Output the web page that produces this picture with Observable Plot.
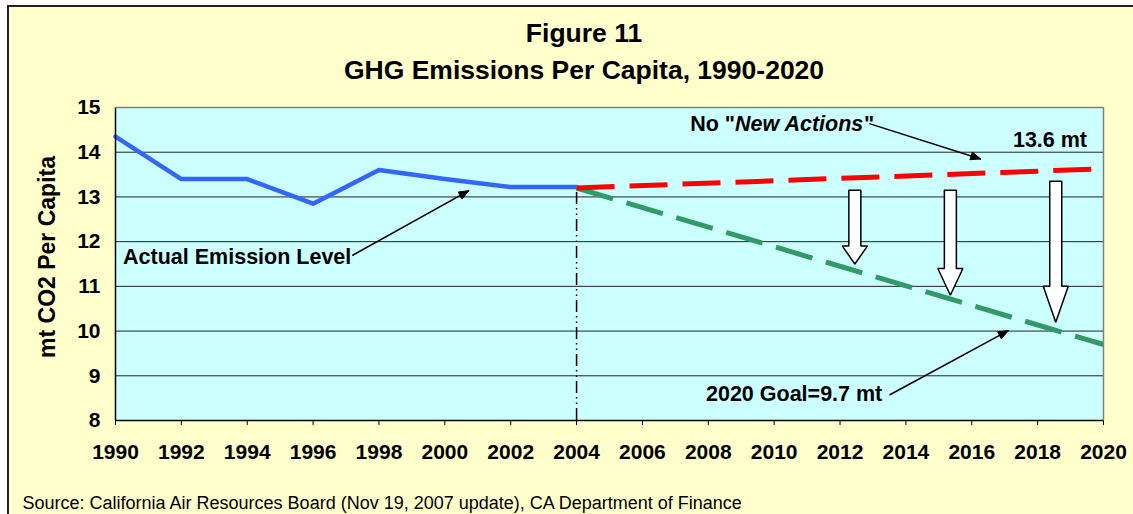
<!DOCTYPE html>
<html><head><meta charset="utf-8">
<script src="https://cdn.jsdelivr.net/npm/d3@7"></script>
<script src="https://cdn.jsdelivr.net/npm/@observablehq/plot@0.6"></script>
<style>
html,body{margin:0;padding:0;background:#fff;overflow:hidden;}
#wrap{position:absolute;left:7px;top:5px;width:1140px;height:520px;background:#FFFFCC;border-left:2px solid #222;border-top:2px solid #222;}
#chart{position:absolute;left:0;top:0;}
</style></head><body><div id="wrap"></div><div id="chart"></div>
<script>
// ---- data ----
const actualYears = [1990, 1992, 1994, 1996, 1998, 2000, 2002, 2004];
const actualValues = [14.35, 13.4, 13.4, 12.85, 13.6, 13.4, 13.22, 13.22];
const projectionYears = [2004, 2020];
const noNewActionsValues = [13.2, 13.63];
const goalValues = [13.2, 9.7];
const xTickYears = [1990, 1992, 1994, 1996, 1998, 2000, 2002, 2004, 2006, 2008, 2010, 2012, 2014, 2016, 2018, 2020];
const yTickValues = [8, 9, 10, 11, 12, 13, 14, 15];
const gridValues = [9, 10, 11, 12, 13, 14];
const baseYear = 2004;
// reduction block arrows (year, top, neck, tip)
const reductionArrowYears = [2012.45, 2015.35, 2018.55];
const reductionArrowTops = [13.15, 13.15, 13.35];
const reductionArrowNecks = [11.9, 11.4, 11.0];
const reductionArrowTips = [11.5, 10.8, 10.2];
// callouts
const calloutLabels = ["Actual Emission Level", "2020 Goal=9.7 mt", "13.6 mt"];
const calloutX = [1990.23, 2007.93, 2019.5];
const calloutY = [11.645, 8.58, 14.28];
const pointerX1 = [1997.19, 2013.5, 2012.89];
const pointerY1 = [11.69, 8.57, 14.64];
const pointerX2 = [2000.73, 2017.11, 2016.27];
const pointerY2 = [13.14, 10.01, 13.85];
const noActionParts = ["No \"", "New Actions", "\""];
const noActionX = 2007.45, noActionY = 14.62;
const titleLines = ["Figure 11", "GHG Emissions Per Capita, 1990-2020"];
const yLabel = "mt CO2 Per Capita";
const sourceNote = "Source: California Air Resources Board (Nov 19, 2007 update), CA Department of Finance";

// ---- layout ----
const W = 1133, H = 514, mL = 115, mR = 30, mT = 107, mB = 94;
const FONT = "'Liberation Sans', Arial, sans-serif";
const AF = 21.5; // annotation font size
const kx = (W - mL - mR) / (2020 - 1990);
const ky = (H - mT - mB) / (15 - 8);

const actual = actualYears.map((x, i) => ({x, y: actualValues[i]}));
const red = projectionYears.map((x, i) => ({x, y: noNewActionsValues[i]}));
const green = projectionYears.map((x, i) => ({x, y: goalValues[i]}));

// block arrow polygons (pixel widths converted to years)
const hw = 6 / kx, hh = 12.5 / kx;
const blocks = [];
reductionArrowYears.forEach((x, i) => {
  const t = reductionArrowTops[i], n = reductionArrowNecks[i], p = reductionArrowTips[i];
  [[x - hw, t], [x + hw, t], [x + hw, n], [x + hh, n], [x, p], [x - hh, n], [x - hw, n], [x - hw, t]]
    .forEach(([px, py]) => blocks.push({id: i, x: px, y: py}));
});

// pointer arrows
const pointers = pointerX1.map((x1, i) => ({x1, y1: pointerY1[i], x2: pointerX2[i], y2: pointerY2[i]}));
const heads = [];
pointers.forEach((p, i) => {
  const dx = (p.x2 - p.x1) * kx, dy = -(p.y2 - p.y1) * ky;
  const L = Math.hypot(dx, dy), ux = dx / L, uy = dy / L;
  const hl = 10, hwid = 4;
  const bx = -hl * ux, by = -hl * uy;
  const pts = [[0, 0], [bx - hwid * uy, by + hwid * ux], [bx + hwid * uy, by - hwid * ux], [0, 0]];
  pts.forEach(([ox, oy]) => heads.push({id: i, x: p.x2 + ox / kx, y: p.y2 - oy / ky}));
});

// measure text for mixed-style label
const ctx = document.createElement("canvas").getContext("2d");
ctx.font = `bold ${AF}px 'Liberation Sans'`;
const w0 = ctx.measureText(noActionParts[0]).width;
ctx.font = `italic bold ${AF}px 'Liberation Sans'`;
const w1 = ctx.measureText(noActionParts[1]).width;

const chart = Plot.plot({
  width: W, height: H,
  marginLeft: mL, marginRight: mR, marginTop: mT, marginBottom: mB,
  style: {background: "transparent", fontFamily: FONT, fontSize: "21px", fontWeight: "bold", color: "#000", overflow: "visible"},
  x: {domain: [1990, 2020], ticks: xTickYears, tickFormat: d => String(d), tickSize: 5, tickPadding: 19, label: null},
  y: {domain: [8, 15], ticks: yTickValues, tickFormat: d => String(d), tickSize: 0, tickPadding: 15, label: null},
  marks: [
    Plot.frame({fill: "#CCFFFF", stroke: null}),
    Plot.ruleY(gridValues, {stroke: "#222", strokeWidth: 1}),
    Plot.ruleX([baseYear], {y1: 8, y2: 13.2, stroke: "#000", strokeWidth: 1.5, strokeDasharray: "12,4,1.5,4,1.5,4"}),
    Plot.line(actual, {x: "x", y: "y", stroke: "#3366FF", strokeWidth: 4.5}),
    Plot.line(green, {x: "x", y: "y", stroke: "#339966", strokeWidth: 5, strokeDasharray: "38,14", strokeLinecap: "butt"}),
    Plot.line(red, {x: "x", y: "y", stroke: "#FF0000", strokeWidth: 5, strokeDasharray: "38,15", strokeLinecap: "butt"}),
    Plot.line(blocks, {x: "x", y: "y", z: "id", fill: "white", stroke: "#000", strokeWidth: 1.5, strokeLinejoin: "miter"}),
    Plot.link(pointers, {x1: "x1", y1: "y1", x2: "x2", y2: "y2", stroke: "#000", strokeWidth: 1.5}),
    Plot.line(heads, {x: "x", y: "y", z: "id", fill: "#000", stroke: "#000", strokeWidth: 1}),
    Plot.text([calloutLabels[0]], {x: calloutX[0], y: calloutY[0], textAnchor: "start", fontSize: AF, fontWeight: "bold"}),
    Plot.text([calloutLabels[1]], {x: calloutX[1], y: calloutY[1], textAnchor: "start", fontSize: AF, fontWeight: "bold"}),
    Plot.text([calloutLabels[2]], {x: calloutX[2], y: calloutY[2], textAnchor: "end", fontSize: AF, fontWeight: "bold"}),
    Plot.text([noActionParts[0]], {x: noActionX, y: noActionY, textAnchor: "start", fontSize: AF, fontWeight: "bold"}),
    Plot.text([noActionParts[1]], {x: noActionX, y: noActionY, dx: w0, textAnchor: "start", fontSize: AF, fontWeight: "bold", fontStyle: "italic"}),
    Plot.text([noActionParts[2]], {x: noActionX, y: noActionY, dx: w0 + w1, textAnchor: "start", fontSize: AF, fontWeight: "bold"}),
    Plot.ruleX([1990], {stroke: "#000", strokeWidth: 1.5}),
    Plot.ruleY([8], {stroke: "#000", strokeWidth: 1.5}),
    Plot.ruleY([15], {stroke: "#808080", strokeWidth: 1.5}),
    Plot.ruleX([2020], {stroke: "#808080", strokeWidth: 1.5}),
    Plot.text([titleLines[0]], {frameAnchor: "top", lineAnchor: "middle", textAnchor: "middle", dx: -25.5, dy: -74, fontSize: 26.5, fontWeight: "bold"}),
    Plot.text([titleLines[1]], {frameAnchor: "top", lineAnchor: "middle", textAnchor: "middle", dx: -25.5, dy: -37, fontSize: 26.5, fontWeight: "bold"}),
    Plot.text([yLabel], {frameAnchor: "left", lineAnchor: "middle", textAnchor: "middle", dx: -68, dy: -7, rotate: -90, fontSize: 23, fontWeight: "bold"}),
    Plot.text([sourceNote], {frameAnchor: "bottom-left", lineAnchor: "middle", textAnchor: "start", dx: -93, dy: 83, fontSize: 18, fontWeight: "normal"})
  ]
});
document.getElementById("chart").appendChild(chart);
</script></body></html>
